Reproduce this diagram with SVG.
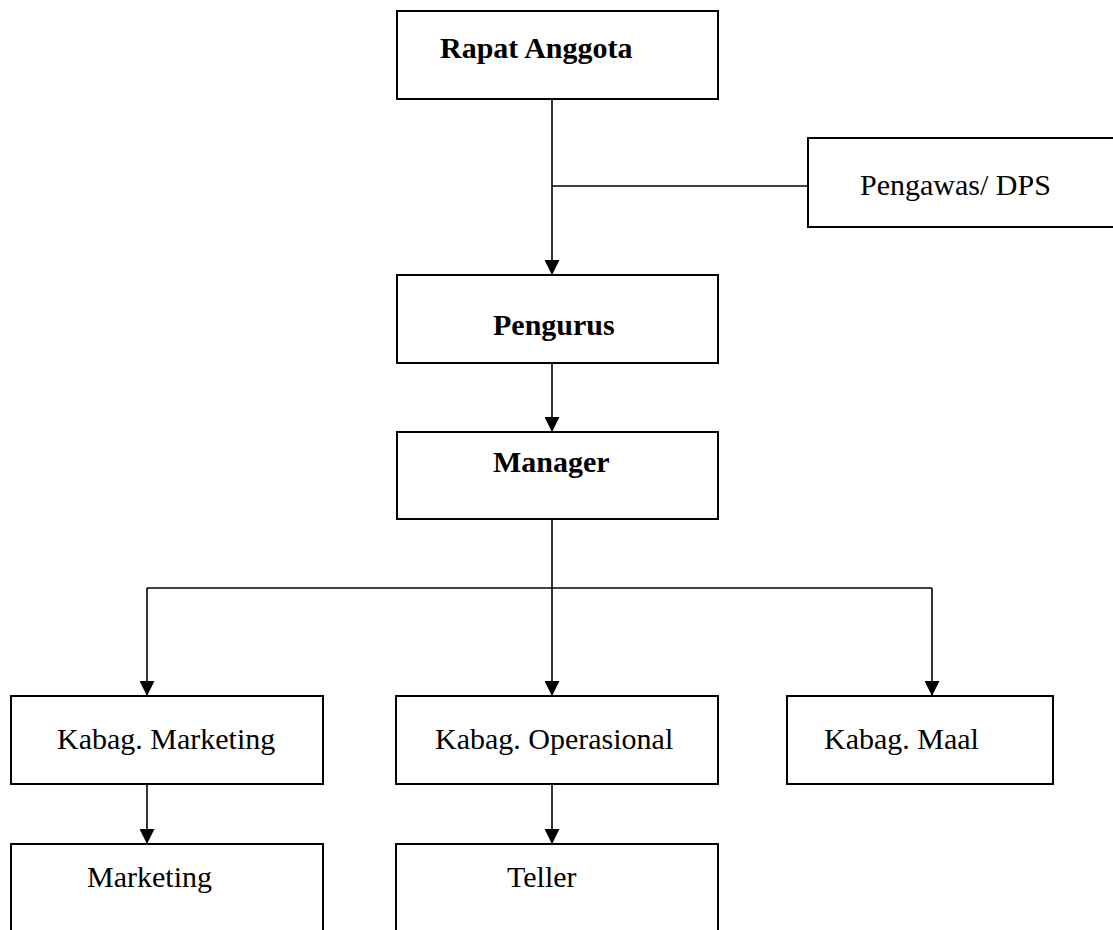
<svg xmlns="http://www.w3.org/2000/svg" width="1113" height="930" viewBox="0 0 1113 930">
<style>
.box{fill:#fff;stroke:#000;stroke-width:2}
.ln{stroke:#000;stroke-width:1.6;fill:none}
.t{font-family:"Liberation Serif","Times New Roman",serif;font-size:30px;fill:#000}
.b{font-weight:bold}
</style>
<defs>
<marker id="arr" viewBox="0 0 10 10" refX="10" refY="5" markerWidth="16" markerHeight="15" markerUnits="userSpaceOnUse" orient="auto">
<path d="M0,0 L10,5 L0,10 z" fill="#000"/>
</marker>
</defs>
<rect width="1113" height="930" fill="#fff"/>
<g id="connectors">
<line class="ln" x1="552" y1="99" x2="552" y2="275" marker-end="url(#arr)"/>
<line class="ln" x1="552" y1="186" x2="808" y2="186"/>
<line class="ln" x1="552" y1="363" x2="552" y2="432" marker-end="url(#arr)"/>
<line class="ln" x1="552" y1="519" x2="552" y2="696" marker-end="url(#arr)"/>
<line class="ln" x1="147" y1="588" x2="932" y2="588"/>
<line class="ln" x1="147" y1="588" x2="147" y2="696" marker-end="url(#arr)"/>
<line class="ln" x1="932" y1="588" x2="932" y2="696" marker-end="url(#arr)"/>
<line class="ln" x1="147" y1="784" x2="147" y2="844" marker-end="url(#arr)"/>
<line class="ln" x1="552" y1="784" x2="552" y2="844" marker-end="url(#arr)"/>
</g>
<g id="rapat-anggota">
<rect class="box" x="397" y="11" width="321" height="88"/>
<text class="t b" x="440" y="58">Rapat Anggota</text>
</g>
<g id="pengawas">
<rect class="box" x="808" y="138" width="320" height="89"/>
<text class="t" x="860" y="195">Pengawas/ DPS</text>
</g>
<g id="pengurus">
<rect class="box" x="397" y="275" width="321" height="88"/>
<text class="t b" x="493" y="335">Pengurus</text>
</g>
<g id="manager">
<rect class="box" x="397" y="432" width="321" height="87"/>
<text class="t b" x="493" y="472">Manager</text>
</g>
<g id="kabag-marketing">
<rect class="box" x="11" y="696" width="312" height="88"/>
<text class="t" x="57" y="749">Kabag. Marketing</text>
</g>
<g id="kabag-operasional">
<rect class="box" x="396" y="696" width="322" height="88"/>
<text class="t" x="435" y="749">Kabag. Operasional</text>
</g>
<g id="kabag-maal">
<rect class="box" x="787" y="696" width="266" height="88"/>
<text class="t" x="824" y="749">Kabag. Maal</text>
</g>
<g id="marketing">
<rect class="box" x="11" y="844" width="312" height="120"/>
<text class="t" x="87" y="887">Marketing</text>
</g>
<g id="teller">
<rect class="box" x="396" y="844" width="322" height="120"/>
<text class="t" x="507" y="887">Teller</text>
</g>
</svg>
